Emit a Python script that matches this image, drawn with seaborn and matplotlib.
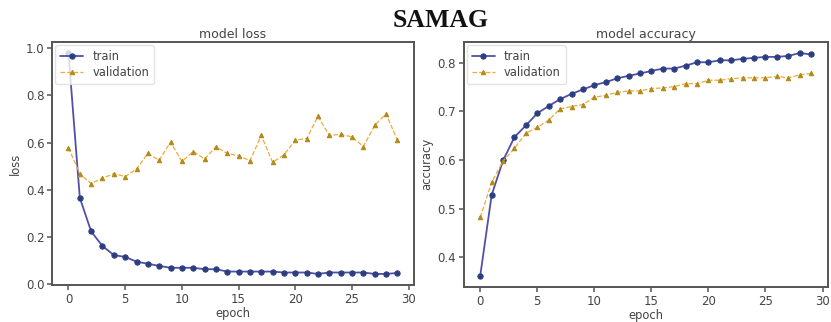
import numpy as np
import pandas as pd
import matplotlib
matplotlib.use("Agg")
import matplotlib.pyplot as plt
import seaborn as sns

epochs = list(range(30))
loss_train = [0.98, 0.366, 0.223, 0.161, 0.123, 0.115, 0.095, 0.086, 0.077, 0.069,
              0.069, 0.069, 0.063, 0.063, 0.053, 0.053, 0.053, 0.053, 0.053, 0.049,
              0.049, 0.049, 0.043, 0.049, 0.049, 0.049, 0.049, 0.043, 0.043, 0.047]
loss_val = [0.578, 0.467, 0.426, 0.449, 0.468, 0.456, 0.487, 0.554, 0.525, 0.602,
            0.520, 0.562, 0.530, 0.582, 0.554, 0.544, 0.523, 0.630, 0.516, 0.548,
            0.610, 0.617, 0.711, 0.630, 0.635, 0.624, 0.583, 0.673, 0.722, 0.610]
acc_train = [0.362, 0.528, 0.599, 0.647, 0.671, 0.696, 0.711, 0.725, 0.736, 0.745,
             0.754, 0.760, 0.768, 0.773, 0.778, 0.783, 0.788, 0.788, 0.794, 0.801,
             0.801, 0.805, 0.805, 0.808, 0.810, 0.812, 0.812, 0.814, 0.820, 0.817]
acc_val = [0.482, 0.554, 0.598, 0.624, 0.655, 0.667, 0.682, 0.705, 0.710, 0.714,
           0.729, 0.733, 0.739, 0.742, 0.742, 0.747, 0.748, 0.751, 0.757, 0.757,
           0.764, 0.764, 0.767, 0.769, 0.769, 0.769, 0.772, 0.769, 0.775, 0.778]

sns.set_theme(style="ticks")
plt.rcParams['font.family'] = ['DejaVu Sans']
text_c = "#444444"
plt.rcParams.update({
    "axes.edgecolor": "#555555",
    "axes.linewidth": 1.4,
    "xtick.color": "#555555",
    "ytick.color": "#555555",
    "xtick.labelcolor": text_c,
    "ytick.labelcolor": text_c,
    "axes.labelcolor": text_c,
    "text.color": text_c,
})

fig = plt.figure(figsize=(8.31, 3.22), dpi=100)
ax1 = fig.add_axes([0.0626, 0.115, 0.4354, 0.755])
ax2 = fig.add_axes([0.558, 0.109, 0.438, 0.761])

train_line = "#5050a8"
train_mark = "#2b3f80"
val_line = "#f0aa38"
val_mark = "#b08a1a"

def draw(ax, tr, va, title, ylabel):
    df = pd.DataFrame({"epoch": epochs, "train": tr, "validation": va})
    sns.lineplot(data=df, x="epoch", y="train", ax=ax, color=train_line, marker="o",
                 markersize=3.8, markerfacecolor=train_mark, markeredgecolor=train_mark,
                 linewidth=1.3, label="train")
    sns.lineplot(data=df, x="epoch", y="validation", ax=ax, color=val_line, marker="^",
                 markersize=3.2, markerfacecolor=val_mark, markeredgecolor=val_mark,
                 linewidth=0.9, linestyle="--", label="validation")
    ax.set_title(title, fontsize=9, color=text_c, pad=3)
    ax.set_xlabel("epoch", fontsize=8.3, labelpad=1)
    ax.set_ylabel(ylabel, fontsize=8.3, labelpad=3)
    ax.tick_params(labelsize=8.5, length=3.5, width=1.1, pad=2)
    ax.set_xticks([0, 5, 10, 15, 20, 25, 30])
    leg = ax.legend(loc="upper left", fontsize=8.3, frameon=True, borderpad=0.4,
                    handlelength=2.0, labelspacing=0.3, borderaxespad=0.3)
    leg.get_frame().set_edgecolor("#dddddd")
    for sp in ax.spines.values():
        sp.set_visible(True)

draw(ax1, loss_train, loss_val, "model loss", "loss")
draw(ax2, acc_train, acc_val, "model accuracy", "accuracy")
ax1.set_yticks([0.0, 0.2, 0.4, 0.6, 0.8, 1.0])
ax2.set_yticks([0.4, 0.5, 0.6, 0.7, 0.8])

fig.text(0.53, 0.935, "SAMAG", ha="center", va="center", fontsize=18.5,
         fontweight="bold", family=["Liberation Serif", "DejaVu Serif"], color="#111111")

fig.savefig("out.png", dpi=100)
